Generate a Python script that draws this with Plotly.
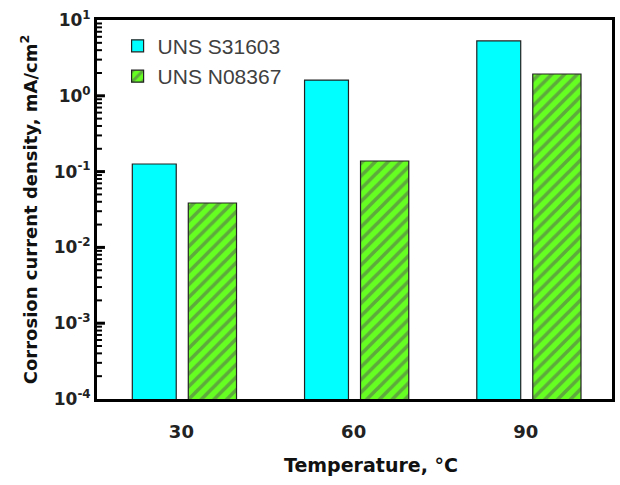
import plotly.graph_objects as go

categories = ["30", "60", "90"]
s31603 = [0.126, 1.61, 5.3]
n08367 = [0.0385, 0.138, 1.94]
ytick_vals = [1e-4, 1e-3, 1e-2, 1e-1, 1e0, 1e1]
ytick_text = ["10<sup>-4</sup>", "10<sup>-3</sup>", "10<sup>-2</sup>", "10<sup>-1</sup>", "10<sup>0</sup>", "10<sup>1</sup>"]
minor_vals = [m * 10.0 ** e for e in range(-4, 1) for m in range(2, 10)]

BOLD = "DejaVu Sans, Verdana, sans-serif"
LEG = "Liberation Sans, Arial, sans-serif"
PLOT_W = 620 - 97 - 5

fig = go.Figure()
fig.add_trace(go.Bar(
    x=categories, y=s31603, name="UNS S31603",
    marker=dict(color="#00ffff", line=dict(color="#222222", width=1.2)),
    offset=-0.285, width=0.255,
))
fig.add_trace(go.Bar(
    x=categories, y=n08367, name="UNS N08367",
    marker=dict(color="#66ff22", line=dict(color="#222222", width=1.2),
                pattern=dict(shape="/", fgcolor="#555555", bgcolor="#66ff22", size=9, solidity=0.4)),
    offset=0.04, width=0.28,
))

# axis tick marks (major and minor) drawn on the inside of the left axis
tick_shapes = []
for v in ytick_vals[1:-1]:
    tick_shapes.append(dict(type="line", xref="paper", yref="y", layer="above",
                            x0=0, x1=8 / PLOT_W, y0=v, y1=v,
                            line=dict(color="black", width=3)))
for v in minor_vals:
    tick_shapes.append(dict(type="line", xref="paper", yref="y", layer="above",
                            x0=0, x1=5 / PLOT_W, y0=v, y1=v,
                            line=dict(color="black", width=2)))

fig.update_layout(
    width=620, height=485,
    margin=dict(l=97, r=5, t=20, b=86),
    plot_bgcolor="white", paper_bgcolor="white",
    barmode="group",
    showlegend=True,
    legend=dict(x=0.04, y=0.985, xanchor="left", yanchor="top",
                font=dict(family=LEG, size=21, color="#404040"),
                bgcolor="rgba(0,0,0,0)", tracegroupgap=0),
    font=dict(family=BOLD, color="#222222"),
    shapes=tick_shapes,
    annotations=[dict(text="<b>Temperature, °C</b>", xref="paper", yref="paper",
                      x=(373 - 97) / 518, y=-0.175, xanchor="center", yanchor="middle",
                      showarrow=False, font=dict(family=BOLD, size=19, color="#111111"))],
)
fig.update_xaxes(
    type="category", range=[-0.49, 2.5],
    showline=True, linecolor="black", linewidth=3, mirror=True,
    ticks="", ticklabelstandoff=14,
    tickfont=dict(family=BOLD, size=18, color="#222222", weight="bold"),
)
fig.update_yaxes(
    type="log", range=[-4, 1],
    tickmode="array", tickvals=ytick_vals, ticktext=ytick_text,
    showline=True, linecolor="black", linewidth=3, mirror=True,
    ticks="", showgrid=False, zeroline=False,
    tickfont=dict(family=BOLD, size=17, color="#222222", weight="bold"),
    title=dict(text="<b>Corrosion current density, mA/cm<sup>2</sup></b>",
               font=dict(family=BOLD, size=18, color="#111111"), standoff=12),
)

fig.write_html("out.html")
